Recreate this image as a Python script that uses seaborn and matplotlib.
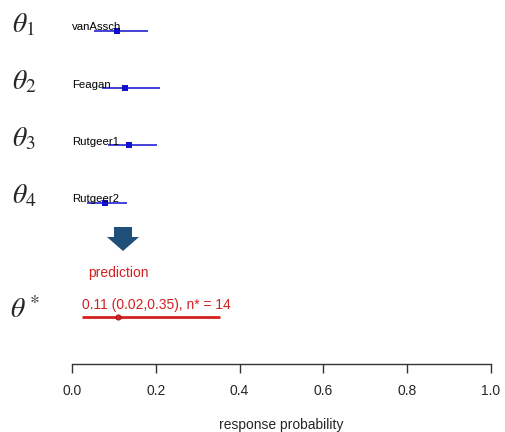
import matplotlib
matplotlib.use("Agg")
import matplotlib.pyplot as plt
import seaborn as sns
import pandas as pd
from matplotlib.patches import Polygon

# ---- data ----
studies = ["vanAssch", "Feagan", "Rutgeer1", "Rutgeer2"]
est = [0.107, 0.126, 0.136, 0.079]
lower = [0.053, 0.072, 0.086, 0.036]
upper = [0.181, 0.210, 0.203, 0.131]
theta_labels = [r"$\theta_1$", r"$\theta_2$", r"$\theta_3$", r"$\theta_4$"]

pred_est = 0.11
pred_lower = 0.024
pred_upper = 0.354
pred_n = 14
pred_label = r"$\theta^*$"
xticks = [0.0, 0.2, 0.4, 0.6, 0.8, 1.0]

df = pd.DataFrame({"study": studies, "est": est, "lo": lower, "hi": upper,
                   "row": range(len(studies))})
pred_row = 5
pred = pd.DataFrame({"est": [pred_est], "lo": [pred_lower], "hi": [pred_upper], "row": [pred_row]})

sns.set_style("white")
plt.rcParams["font.family"] = ["Liberation Sans", "DejaVu Sans"]
plt.rcParams["mathtext.fontset"] = "stix"

W, H = 506, 432
fig = plt.figure(figsize=(W / 100, H / 100), dpi=100)
ax = fig.add_axes([72 / W, (H - 364) / H, (491 - 72) / W, 364 / H])

blue = "#1010D0"
red = "#D42020"

ax.hlines(df["row"], df["lo"], df["hi"], color=blue, lw=1.1)
sns.scatterplot(data=df, x="est", y="row", marker="s", color=blue, s=16,
                edgecolor=blue, linewidth=0, ax=ax, legend=False, zorder=3)
for _, r in df.iterrows():
    ax.annotate(r["study"], (0.0, r["row"]), xytext=(0, 0.3), textcoords="offset points",
                fontsize=8.2, color="black", va="baseline", ha="left")
    ax.annotate(theta_labels[int(r["row"])], (0.0, r["row"]), xytext=(-43.5, -1),
                textcoords="offset points", fontsize=20, va="baseline", ha="left",
                annotation_clip=False)

ax.hlines(pred["row"], pred["lo"], pred["hi"], color=red, lw=2)
sns.scatterplot(data=pred, x="est", y="row", marker="o", color=red, s=14,
                edgecolor="#A01010", linewidth=0.6, ax=ax, legend=False, zorder=3)
ax.annotate(f"{pred_est:.2f} ({pred_lower:.2f},{pred_upper:.2f}), n* = {pred_n}",
            (pred_lower, pred_row), xytext=(0, 8.5), textcoords="offset points",
            fontsize=10, color=red, va="center", ha="left")
ax.annotate("prediction", (pred_lower, pred_row), xytext=(4.5, 31.5), textcoords="offset points",
            fontsize=10, color=red, va="center", ha="left")
ax.annotate(pred_label, (0.0, pred_row), xytext=(-45, -1), textcoords="offset points",
            fontsize=20, va="baseline", ha="left", annotation_clip=False)

# arrow (figure pixel coordinates, y from top)
ax_pts = [(114, 227), (132, 227), (132, 237), (139, 237), (123, 251), (107, 237), (114, 237)]
fig.patches.append(Polygon([(x / W, 1 - y / H) for x, y in ax_pts], closed=True,
                           transform=fig.transFigure, facecolor="#1F4E79", edgecolor="none"))

ax.set_xlim(0, 1)
ax.set_ylim(5.82, -0.536)
for s in ["top", "left", "right"]:
    ax.spines[s].set_visible(False)
ax.spines["bottom"].set_bounds(0, 1)
ax.spines["bottom"].set_color("#333333")
ax.spines["bottom"].set_linewidth(1)
ax.set_yticks([])
ax.set_xticks(xticks)
ax.set_xticklabels([f"{t:.1f}" for t in xticks])
ax.tick_params(axis="x", bottom=True, direction="out", length=6.5, width=1, color="#333333",
               labelsize=10, pad=8)
ax.set_xlabel("response probability", fontsize=10, labelpad=14)
ax.set_ylabel("")

fig.savefig("out.png", dpi=100)
